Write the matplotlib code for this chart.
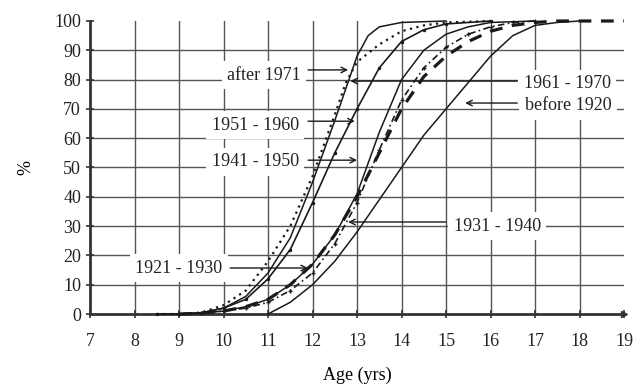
import numpy as np
import matplotlib.pyplot as plt

plt.rcParams['font.family'] = ['Liberation Serif', 'DejaVu Serif']

# cumulative % vs age (yrs)
age_1971 = [8.5, 9, 9.5, 10, 10.5, 11, 11.5, 12, 12.5, 12.75, 13, 13.5, 14, 14.5, 15, 16]
pct_1971 = [0, 0, 0.5, 3, 8, 18, 30, 47, 68, 79, 86, 92, 96.5, 98.5, 99.5, 100]

age_1961 = [8.5, 9, 9.5, 10, 10.5, 11, 11.5, 12, 12.5, 13, 13.25, 13.5, 14, 15]
pct_1961 = [0, 0, 0.4, 2, 6, 14, 26, 45, 66, 88, 95, 98, 99.5, 100]

age_1951 = [8.5, 9, 9.5, 10, 10.5, 11, 11.5, 12, 12.5, 13, 13.5, 14, 14.5, 15, 16]
pct_1951 = [0, 0, 0.4, 2, 5, 12, 22, 38, 55, 70, 84, 93, 97, 99, 100]

age_1941 = [9, 9.5, 10, 10.5, 11, 11.5, 12, 12.5, 13, 13.5, 14, 14.5, 15, 15.5, 16, 17]
pct_1941 = [0, 0.3, 1, 2.5, 5, 10, 17, 27, 41, 62, 80, 90, 95.5, 98, 99.5, 100]

age_1931 = [9, 9.5, 10, 10.5, 11, 11.5, 12, 12.5, 13, 13.5, 14, 14.5, 15, 15.5, 16, 16.5, 17]
pct_1931 = [0, 0.3, 1, 2, 4, 8, 14, 24, 38, 56, 73, 84, 91, 95.5, 98, 99.5, 100]

age_1921 = [9, 9.5, 10, 10.5, 11, 11.5, 12, 12.5, 13, 13.5, 14, 14.5, 15, 15.5, 16, 16.5, 17, 17.5, 18, 19]
pct_1921 = [0, 0.3, 1, 2.5, 5, 10, 17, 27, 40, 55, 70, 81, 88, 93, 96.5, 98.5, 99.5, 100, 100, 100]

age_1920 = [11, 11.5, 12, 12.5, 13, 13.5, 14, 14.5, 15, 15.5, 16, 16.5, 17, 17.5, 18]
pct_1920 = [0, 4, 10, 18, 28, 39, 50, 61, 70, 79, 88, 95, 98.5, 99.5, 100]

x_ticks = list(range(7, 20))
y_ticks = list(range(0, 101, 10))

fig = plt.figure(figsize=(6.44, 3.88), dpi=100)
ax = fig.add_axes([0.1398, 0.1907, 0.8292, 0.7552])

ink = '#1a1a1a'
grid_c = '#555555'

ax.plot(age_1961, pct_1961, color=ink, lw=1.1, clip_on=False, zorder=4)
ax.plot(age_1971, pct_1971, color=ink, lw=1.6, ls=(0, (1, 2)), clip_on=False, zorder=4)
ax.plot(age_1951, pct_1951, color=ink, lw=1.2, marker='.', ms=3, clip_on=False, zorder=4)
ax.plot(age_1941, pct_1941, color=ink, lw=1.1, clip_on=False, zorder=4)
ax.plot(age_1931, pct_1931, color=ink, lw=1.2, ls=(0, (4, 2, 1, 2)), marker='+', ms=3,
        clip_on=False, zorder=4)
ax.plot(age_1921, pct_1921, color=ink, lw=2.3, ls=(0, (4, 3)), clip_on=False, zorder=4)
ax.plot(age_1920, pct_1920, color=ink, lw=1.1, clip_on=False, zorder=4)

ax.set_xlim(7, 19)
ax.set_ylim(0, 100)
ax.set_xticks(x_ticks)
ax.set_yticks(y_ticks)
ax.tick_params(labelsize=13, direction='inout', length=6, width=1.2, colors='#333333',
               labelcolor='#222222')
ax.tick_params(axis='x', pad=11)

for v in x_ticks[1:-1]:
    ax.axvline(v, color=grid_c, lw=1.0, zorder=1)
for v in y_ticks[1:-1]:
    ax.axhline(v, color=grid_c, lw=1.0, zorder=1)

for s in ['top', 'right']:
    ax.spines[s].set_visible(False)
ax.spines['left'].set_linewidth(2.0)
ax.spines['bottom'].set_linewidth(2.0)
ax.spines['left'].set_color('#333333')
ax.spines['bottom'].set_color('#333333')
ax.plot(1, 0, '>', color='#333333', ms=4, transform=ax.transAxes, clip_on=False)

ax.set_xlabel('Age (yrs)', fontsize=13, labelpad=12)
ax.set_ylabel('%', fontsize=13, labelpad=14)

box = dict(fc='white', ec='none', pad=4)
arrow = dict(arrowstyle='->', lw=1.0, color=ink, shrinkA=0, shrinkB=0)

labels = [
    ('after 1971', 10.91, 81.5, (11.9, 83.3), (12.8, 83.3)),
    ('1951 - 1960', 10.71, 64.5, (11.9, 65.8), (12.95, 65.8)),
    ('1941 - 1950', 10.71, 52.0, (11.9, 52.5), (13.0, 52.5)),
    ('1921 - 1930', 9.0, 15.7, (10.15, 15.7), (11.9, 15.7)),
    ('1961 - 1970', 17.72, 78.5, (16.6, 79.5), (12.85, 79.5)),
    ('before 1920', 17.74, 71.0, (16.6, 72.0), (15.43, 72.0)),
    ('1931 - 1940', 16.15, 30.0, (15.0, 31.4), (12.8, 31.4)),
]
for txt, tx, ty, start, tip in labels:
    ax.annotate('', xy=tip, xytext=start, arrowprops=arrow, zorder=3)
    ax.text(tx, ty, txt, fontsize=13, ha='center', va='center', color='#222222',
            bbox=box, zorder=3)

fig.savefig('out.png', dpi=100)
